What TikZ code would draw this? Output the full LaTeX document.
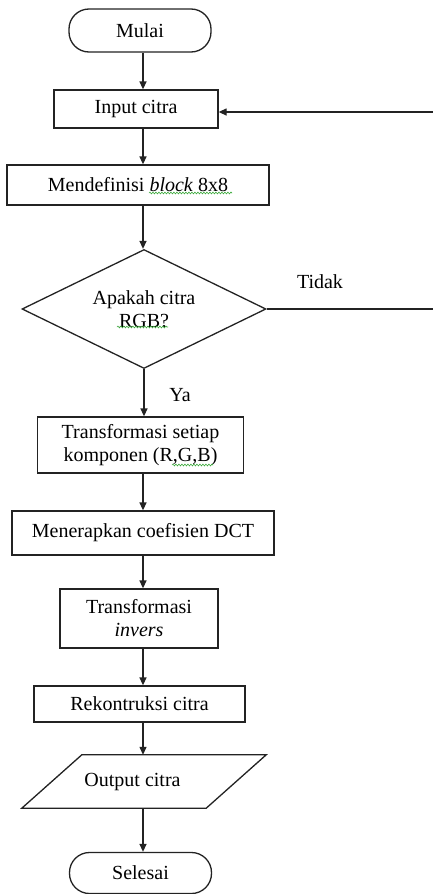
\documentclass[tikz,border=0pt]{standalone}
\usepackage{fontspec}
\setmainfont{Liberation Serif}
\usetikzlibrary{shapes.geometric,arrows.meta,calc,decorations.pathmorphing}
\begin{document}
\begin{tikzpicture}[x=1pt,y=-1pt,
  every node/.style={font=\fontsize{20}{23}\selectfont, inner sep=0pt, align=center},
  shp/.style={draw={rgb,255:red,35;green,35;blue,35}, line width=1.3pt, fill=white},
  terminal/.style={shp, rectangle, rounded corners=20pt, minimum width=142pt},
  procbox/.style={shp, rectangle},
  decision/.style={shp, diamond, aspect=2.05},
  arr/.style={draw={rgb,255:red,35;green,35;blue,35}, line width=1.3pt, -{Triangle[length=8pt,width=7pt]}},
  ln/.style={draw={rgb,255:red,35;green,35;blue,35}, line width=1.3pt},
  squig/.style={draw={rgb,255:red,60;green,170;blue,60}, line width=0.6pt, decorate, decoration={snake, segment length=3pt, amplitude=0.9pt}},
  lbl/.style={font=\fontsize{20}{23}\selectfont}
]
\useasboundingbox (0,0) rectangle (433,894);

\coordinate (spine) at (143,0);

\node[terminal, minimum height=43pt] (mulai) at (140,30.5) {Mulai};
\node[procbox, minimum width=164pt, minimum height=38pt] (input) at (136,109) {Input citra};
\node[procbox, minimum width=262pt, minimum height=40pt] (mendef) at (138,185) {Mendefinisi \textit{block} 8x8};
\node[decision, minimum width=244pt, minimum height=119pt] (dec) at (144,309) {Apakah citra\\RGB?};
\node[procbox, minimum width=206pt, minimum height=56pt] (trans) at (140.5,445) {Transformasi setiap\\komponen (R,G,B)};
\node[procbox, minimum width=262pt, minimum height=44pt] (dct) at (143,533) {Menerapkan coefisien DCT};
\node[procbox, minimum width=158pt, minimum height=59pt] (inv) at (139,618.5) {Transformasi\\\textit{invers}};
\node[procbox, minimum width=211pt, minimum height=36pt] (rek) at (139.5,704) {Rekontruksi citra};
\node[rectangle, minimum width=184pt, minimum height=53pt] (out) at (144,781.5) {};
\draw[shp] ($(out.north west)+(30,0)$) -- ($(out.north east)+(30,0)$) -- ($(out.south east)+(-30,0)$) -- ($(out.south west)+(-30,0)$) -- cycle;
\node (outtext) at (132.5,781.5) {Output citra};
\node[terminal, minimum height=41pt] (sel) at (140.5,873) {Selesai};

\node[lbl] (tidak) at (320,282) {Tidak};
\node[lbl] (ya) at (180,395) {Ya};

\draw[arr] (mulai.south -| spine) -- (input.north -| spine);
\draw[arr] (input.south -| spine) -- (mendef.north -| spine);
\draw[arr] (mendef.south -| spine) -- (dec.north -| spine);
\draw[arr] (dec.south) -- (trans.north -| dec.south);
\draw[arr] (trans.south -| spine) -- (dct.north -| spine);
\draw[arr] (dct.south -| spine) -- (inv.north -| spine);
\draw[arr] (inv.south -| spine) -- (rek.north -| spine);
\draw[arr] (rek.south -| spine) -- (out.north -| spine);
\draw[arr] (out.south -| spine) -- (sel.north -| spine);

\coordinate (tend) at (433,309);
\coordinate (fb) at (433,112);
\draw[ln] (dec.east) -- (tend);
\draw[arr] (fb) -- (fb -| input.east);

\draw[squig] (149,193) -- (232,193);
\draw[squig] (117,327) -- (168,327);
\draw[squig] (172,465) -- (213,465);
\end{tikzpicture}
\end{document}
